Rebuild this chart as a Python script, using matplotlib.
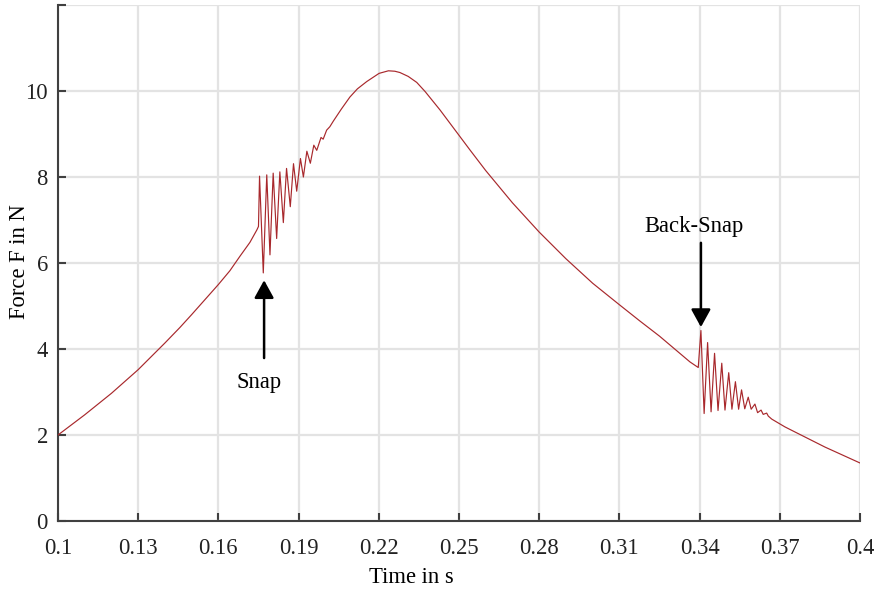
"""
Force over time with snap and back-snap
"""

import numpy as np
import matplotlib.pyplot as plt

plt.rcParams['font.family'] = ['Liberation Serif', 'DejaVu Serif']

# smooth rise before the snap
t_rise = [0.100, 0.110, 0.120, 0.130, 0.140, 0.1456, 0.150, 0.160, 0.1643, 0.1681, 0.1718, 0.1744, 0.1750]
f_rise = [2.00, 2.47, 2.97, 3.52, 4.14, 4.50, 4.80, 5.50, 5.82, 6.16, 6.48, 6.77, 6.85]

# oscillation after the snap
t_snap = [0.1754, 0.1768, 0.1781, 0.1793, 0.1805, 0.1818, 0.1830, 0.1843, 0.1855, 0.1869,
          0.1881, 0.1893, 0.1907, 0.1918, 0.1931, 0.1944, 0.1957, 0.1968, 0.1984, 0.1992]
f_snap = [8.02, 5.77, 8.05, 6.19, 8.09, 6.57, 8.12, 6.94, 8.20, 7.31,
          8.31, 7.67, 8.43, 8.00, 8.60, 8.32, 8.74, 8.62, 8.92, 8.88]

# maximum and descent
t_peak = [0.2005, 0.2017, 0.2030, 0.2060, 0.2092, 0.2120, 0.2155, 0.2201, 0.2236, 0.2260,
          0.2279, 0.2310, 0.2342, 0.2373, 0.2429, 0.2541, 0.260, 0.270, 0.280, 0.290,
          0.300, 0.310, 0.3177, 0.325, 0.3364, 0.3395]
f_peak = [9.09, 9.17, 9.30, 9.58, 9.86, 10.05, 10.22, 10.41, 10.47, 10.46,
          10.43, 10.34, 10.20, 9.99, 9.56, 8.63, 8.15, 7.40, 6.72, 6.10,
          5.53, 5.03, 4.65, 4.30, 3.70, 3.57]

# oscillation after the back-snap
t_back = [0.3405, 0.3417, 0.3430, 0.3443, 0.3456, 0.3469, 0.3483, 0.3495, 0.3509, 0.3521,
          0.3534, 0.3546, 0.3557, 0.3569, 0.3582, 0.3593, 0.3607, 0.3617, 0.3630, 0.3638,
          0.3651, 0.3657]
f_back = [4.43, 2.50, 4.15, 2.54, 3.90, 2.57, 3.67, 2.58, 3.45, 2.60,
          3.24, 2.60, 3.05, 2.61, 2.88, 2.60, 2.72, 2.52, 2.58, 2.48,
          2.51, 2.44]

# decay to the end
t_tail = [0.3670, 0.3719, 0.3738, 0.3869, 0.400]
f_tail = [2.37, 2.19, 2.13, 1.72, 1.35]

time_s = np.array(t_rise + t_snap + t_peak + t_back + t_tail)
force_n = np.array(f_rise + f_snap + f_peak + f_back + f_tail)

x_ticks = [0.1, 0.13, 0.16, 0.19, 0.22, 0.25, 0.28, 0.31, 0.34, 0.37, 0.4]
x_labels = ['0.1', '0.13', '0.16', '0.19', '0.22', '0.25', '0.28', '0.31', '0.34', '0.37', '0.4']
y_ticks = [0, 2, 4, 6, 8, 10, 12]
y_labels = ['0', '2', '4', '6', '8', '10', '']

fig = plt.figure(figsize=(8.77, 5.89), dpi=100)
ax = fig.add_axes([0.0661, 0.1154, 0.9145, 0.8761])

ax.plot(time_s, force_n, color='#a8282c', lw=0.85, zorder=3)

ax.set_xlim(0.1, 0.4)
ax.set_ylim(0, 12)
ax.set_xticks(x_ticks)
ax.set_xticklabels(x_labels)
ax.set_yticks(y_ticks)
ax.set_yticklabels(y_labels)

ax.grid(True, color='#e3e3e3', lw=1.6, zorder=0)
ax.set_axisbelow(True)
for side in ['top', 'right']:
    ax.spines[side].set_visible(False)
for side in ['left', 'bottom']:
    ax.spines[side].set_color('#404040')
    ax.spines[side].set_linewidth(1.5)
ax.tick_params(direction='in', length=5.5, width=1.5, color='#404040',
               labelsize=16.3, labelcolor='#222222')
ax.tick_params(axis='x', pad=12.5)
ax.tick_params(axis='y', pad=7.2)

ax.set_xlabel('Time in s', fontsize=16.3, va='center')
ax.set_ylabel('Force F in N', fontsize=16.3, va='center')
ax.xaxis.set_label_coords(0.441, -0.1085)
ax.yaxis.set_label_coords(-0.048, 0.502)

# annotations
arrow = dict(arrowstyle='-|>,head_length=0.4,head_width=0.22', color='k',
             lw=1.8, mutation_scale=27, shrinkA=0, shrinkB=0)
ax.annotate('', xy=(0.1771, 5.60), xytext=(0.1771, 3.79), arrowprops=arrow)
ax.text(0.1752, 3.21, 'Snap', fontsize=16.3, ha='center', va='center')
ax.annotate('', xy=(0.3405, 4.51), xytext=(0.3405, 6.47), arrowprops=arrow)
ax.text(0.3379, 6.86, 'Back-Snap', fontsize=16.3, ha='center', va='center')

fig.savefig('out.png', dpi=100)
